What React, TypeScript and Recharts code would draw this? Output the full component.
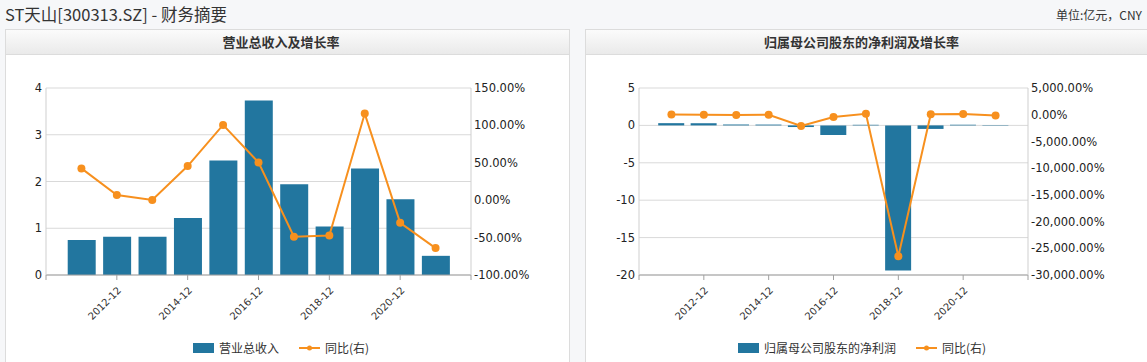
import { ComposedChart, Bar, Line, XAxis, YAxis, CartesianGrid, Legend } from 'recharts';

const years = [2011, 2012, 2013, 2014, 2015, 2016, 2017, 2018, 2019, 2020, 2021];
const revenue = [0.75, 0.82, 0.82, 1.22, 2.45, 3.73, 1.94, 1.04, 2.28, 1.62, 0.41];
const revenueGrowth = [42.5, 7.0, 0.3, 45.6, 100.7, 50.5, -48.9, -47.1, 115.8, -30.3, -64.0];
const netProfit = [0.3, 0.29, 0.12, 0.11, -0.22, -1.3, 0.08, -19.4, -0.47, 0.09, -0.05];
const netProfitGrowth = [30, -3, -58, -8, -2100, -420, 160, -26500, 97.6, 119, -155];

const xTicks = [2010, 2012, 2014, 2016, 2018, 2020, 2022];
const xLabelled = [2012, 2014, 2016, 2018, 2020];
const revenueTicks = [0, 1, 2, 3, 4];
const revenueGrowthTicks = [-100, -50, 0, 50, 100, 150];
const profitTicks = [-20, -15, -10, -5, 0, 5];
const profitGrowthTicks = [-30000, -25000, -20000, -15000, -10000, -5000, 0, 5000];

const revenueData = years.map((year, i) => ({ year, value: revenue[i], growth: revenueGrowth[i] }));
const profitData = years.map((year, i) => ({ year, value: netProfit[i], growth: netProfitGrowth[i] }));

const BAR = '#22769f';
const LINE = '#f7901e';
const NUM_FONT = '"DejaVu Sans", Verdana, sans-serif';
const CJK_FONT = '"Noto Sans CJK SC", "Noto Sans", sans-serif';

const pct = (v: number) =>
  v.toLocaleString('en-US', { minimumFractionDigits: 2, maximumFractionDigits: 2 }) + '%';

const XTick = ({ x, y, payload }: any) => {
  if (!xLabelled.includes(payload.value)) return <g />;
  return (
    <g transform={`translate(${x},${y})`}>
      <text
        x={5}
        y={9}
        textAnchor="end"
        transform="rotate(-45 5 9)"
        fontSize={10}
        fill="#333"
        fontFamily={NUM_FONT}
      >
        {`${payload.value}-12`}
      </text>
    </g>
  );
};

// bars first, then the line, like the original legend
const LegendContent = ({ payload }: any) => {
  const items = [...(payload || [])].sort(
    (a: any, b: any) => (a.type === 'line' ? 1 : 0) - (b.type === 'line' ? 1 : 0)
  );
  return (
    <div
      style={{
        display: 'flex',
        justifyContent: 'center',
        alignItems: 'center',
        fontSize: 12,
        color: '#333',
        fontFamily: CJK_FONT,
        lineHeight: '17px',
      }}
    >
      {items.map((p: any, i: number) => (
        <div key={i} style={{ display: 'flex', alignItems: 'center', marginLeft: i ? 20 : 0 }}>
          <svg width={21} height={12}>
            {p.type === 'line' ? (
              <>
                <line x1={0} y1={6} x2={21} y2={6} stroke={p.color} strokeWidth={2} />
                <circle cx={10.5} cy={6} r={2.5} fill={p.color} />
              </>
            ) : (
              <rect x={0} y={1} width={21} height={10} fill={p.color} />
            )}
          </svg>
          <span style={{ marginLeft: 5 }}>{p.value}</span>
        </div>
      ))}
    </div>
  );
};

type PanelProps = {
  left: number;
  width: number;
  title: string;
  data: any[];
  barName: string;
  leftTicks: number[];
  rightTicks: number[];
  leftWidth: number;
  rightWidth: number;
  chartWidth: number;
  barSize: number;
  rightFormat: (v: number) => string;
  legendCenter: number;
};

const Panel = (p: PanelProps) => (
  <div
    style={{
      position: 'absolute',
      left: p.left,
      top: 29,
      width: p.width,
      height: 345,
      boxSizing: 'border-box',
      border: '1px solid #dcdcdc',
      background: '#fff',
    }}
  >
    <div
      style={{
        height: 24,
        lineHeight: '24px',
        borderBottom: '1px solid #dcdcdc',
        background: 'linear-gradient(#fbfbfb, #eaeaea)',
        textAlign: 'center',
        paddingRight: 13,
        fontFamily: CJK_FONT,
        fontWeight: 'bold',
        fontSize: 13,
        color: '#333',
      }}
    >
      {p.title}
    </div>
    <ComposedChart
      width={p.chartWidth}
      height={306}
      data={p.data}
      margin={{ top: 33, right: 0, bottom: 36, left: 0 }}
    >
      <CartesianGrid yAxisId="l" vertical={false} stroke="#d9d9d9" />
      <XAxis
        dataKey="year"
        type="number"
        domain={[2010, 2022]}
        ticks={xTicks}
        interval={0}
        height={50}
        axisLine={{ stroke: '#a0a0a0' }}
        tickLine={{ stroke: '#a0a0a0' }}
        tickSize={5}
        tick={<XTick />}
      />
      <YAxis
        yAxisId="l"
        orientation="left"
        width={p.leftWidth}
        domain={[p.leftTicks[0], p.leftTicks[p.leftTicks.length - 1]]}
        ticks={p.leftTicks}
        interval={0}
        axisLine={{ stroke: '#cfcfcf' }}
        tickLine={false}
        tickSize={2}
        tickMargin={2}
        tick={{ fontSize: 11.5, fill: '#222', fontFamily: NUM_FONT }}
      />
      <YAxis
        yAxisId="r"
        orientation="right"
        width={p.rightWidth}
        domain={[p.rightTicks[0], p.rightTicks[p.rightTicks.length - 1]]}
        ticks={p.rightTicks}
        interval={0}
        axisLine={{ stroke: '#cfcfcf' }}
        tickLine={false}
        tickSize={1}
        tickMargin={2}
        tickFormatter={p.rightFormat}
        tick={{ fontSize: 11.5, fill: '#222', fontFamily: NUM_FONT, textAnchor: 'start' }}
      />
      <Legend
        verticalAlign="middle"
        align="center"
        layout="horizontal"
        wrapperStyle={{ top: 284, left: 0, width: p.legendCenter * 2 }}
        content={<LegendContent />}
      />
      <Bar
        yAxisId="l"
        dataKey="value"
        name={p.barName}
        fill={BAR}
        barSize={p.barSize}
        isAnimationActive={false}
      />
      <Line
        yAxisId="r"
        dataKey="growth"
        name="同比(右)"
        stroke={LINE}
        strokeWidth={2}
        dot={{ r: 4, fill: LINE, stroke: LINE, strokeWidth: 0 }}
        activeDot={false}
        isAnimationActive={false}
      />
    </ComposedChart>
  </div>
);

export default function App() {
  return (
    <div
      style={{
        position: 'relative',
        width: 1147,
        height: 362,
        overflow: 'hidden',
        background: '#f6f7f9',
      }}
    >
      <style>{'body{margin:0}'}</style>
      <div
        style={{
          position: 'absolute',
          left: 5,
          top: 2,
          fontSize: 16.5,
          color: '#333',
          fontFamily: CJK_FONT,
          lineHeight: '24px',
        }}
      >
        ST天山[300313.SZ] - 财务摘要
      </div>
      <div
        style={{
          position: 'absolute',
          right: 5,
          top: 6,
          fontSize: 12,
          color: '#333',
          fontFamily: CJK_FONT,
          lineHeight: '18px',
        }}
      >
        单位:亿元，CNY
      </div>
      <Panel
        left={5}
        width={565}
        title="营业总收入及增长率"
        data={revenueData}
        barName="营业总收入"
        leftTicks={revenueTicks}
        rightTicks={revenueGrowthTicks}
        leftWidth={40}
        rightWidth={98}
        chartWidth={563}
        barSize={28}
        rightFormat={pct}
        legendCenter={275}
      />
      <Panel
        left={585}
        width={566}
        title="归属母公司股东的净利润及增长率"
        data={profitData}
        barName="归属母公司股东的净利润"
        leftTicks={profitTicks}
        rightTicks={profitGrowthTicks}
        leftWidth={53}
        rightWidth={119}
        chartWidth={561}
        barSize={26}
        rightFormat={pct}
        legendCenter={276}
      />
    </div>
  );
}
